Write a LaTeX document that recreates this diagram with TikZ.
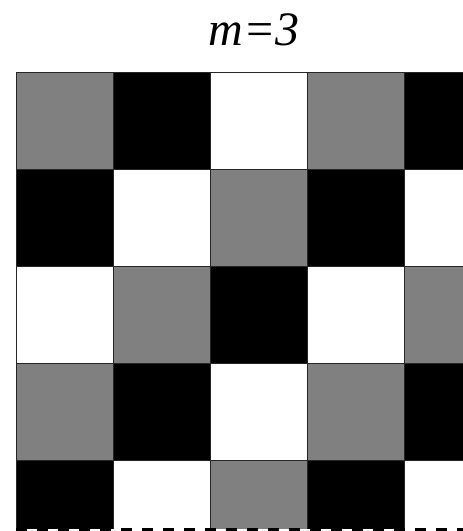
\documentclass[tikz,border=0pt]{standalone}
\usepackage{fontspec}
\setmainfont{Liberation Serif}
\begin{document}
\begin{tikzpicture}[x=1pt,y=-1pt,
  gridline/.style={line width=1pt,black!85},
  edgeline/.style={line width=3pt,black,dash pattern=on 11pt off 10pt},
  titletext/.style={font=\fontsize{48}{48}\selectfont\itshape,inner sep=0pt,anchor=base}]
\useasboundingbox (0,0) rectangle (463,531);
\fill[white] (0,0) rectangle (463,531);
\node[titletext] (title) at (254,45) {m=3};
\begin{scope}
\clip (16,72) rectangle (463,531);
\foreach \i in {0,...,4}{\foreach \j in {0,...,4}{
  \pgfmathtruncatemacro\k{mod(\i+\j,3)}
  \ifcase\k \def\cc{gray}\or \def\cc{black}\or \def\cc{white}\fi
  \fill[\cc] (16+97*\j,72+97*\i) rectangle ++(97,97);
}}
\foreach \x in {16,113,210,307,404} \draw[gridline] (\x,72) -- (\x,529);
\foreach \y in {72,169,266,363,460} \draw[gridline] (16,\y) -- (463,\y);
\end{scope}
\fill[white] (0,529) rectangle (463,531);
\draw[edgeline] (16,529.5) -- (463,529.5);
\end{tikzpicture}
\end{document}
